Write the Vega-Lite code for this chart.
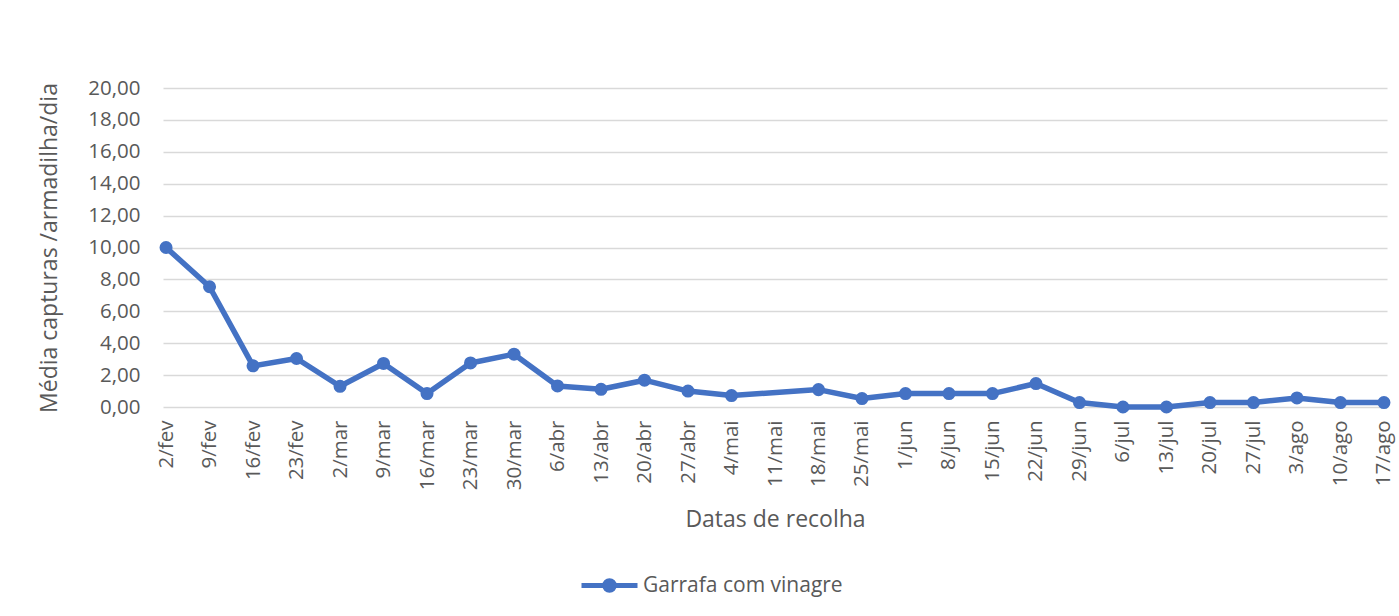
{
  "$schema": "https://vega.github.io/schema/vega-lite/v6.json",
  "width": 1224,
  "height": 319,
  "autosize": "none",
  "padding": {"left": 163, "top": 88, "right": 12, "bottom": 209},
  "background": "white",
  "config": {"font": "Open Sans", "view": {"stroke": null}},
  "data": {
    "values": [
      {"data": "2/fev", "media": 10.0, "serie": "Garrafa com vinagre"},
      {"data": "9/fev", "media": 7.54, "serie": "Garrafa com vinagre"},
      {"data": "16/fev", "media": 2.58, "serie": "Garrafa com vinagre"},
      {"data": "23/fev", "media": 3.04, "serie": "Garrafa com vinagre"},
      {"data": "2/mar", "media": 1.3, "serie": "Garrafa com vinagre"},
      {"data": "9/mar", "media": 2.73, "serie": "Garrafa com vinagre"},
      {"data": "16/mar", "media": 0.84, "serie": "Garrafa com vinagre"},
      {"data": "23/mar", "media": 2.76, "serie": "Garrafa com vinagre"},
      {"data": "30/mar", "media": 3.31, "serie": "Garrafa com vinagre"},
      {"data": "6/abr", "media": 1.32, "serie": "Garrafa com vinagre"},
      {"data": "13/abr", "media": 1.11, "serie": "Garrafa com vinagre"},
      {"data": "20/abr", "media": 1.68, "serie": "Garrafa com vinagre"},
      {"data": "27/abr", "media": 1.0, "serie": "Garrafa com vinagre"},
      {"data": "4/mai", "media": 0.72, "serie": "Garrafa com vinagre"},
      {"data": "18/mai", "media": 1.09, "serie": "Garrafa com vinagre"},
      {"data": "25/mai", "media": 0.53, "serie": "Garrafa com vinagre"},
      {"data": "1/jun", "media": 0.84, "serie": "Garrafa com vinagre"},
      {"data": "8/jun", "media": 0.84, "serie": "Garrafa com vinagre"},
      {"data": "15/jun", "media": 0.84, "serie": "Garrafa com vinagre"},
      {"data": "22/jun", "media": 1.47, "serie": "Garrafa com vinagre"},
      {"data": "29/jun", "media": 0.28, "serie": "Garrafa com vinagre"},
      {"data": "6/jul", "media": 0.0, "serie": "Garrafa com vinagre"},
      {"data": "13/jul", "media": 0.0, "serie": "Garrafa com vinagre"},
      {"data": "20/jul", "media": 0.28, "serie": "Garrafa com vinagre"},
      {"data": "27/jul", "media": 0.28, "serie": "Garrafa com vinagre"},
      {"data": "3/ago", "media": 0.57, "serie": "Garrafa com vinagre"},
      {"data": "10/ago", "media": 0.28, "serie": "Garrafa com vinagre"},
      {"data": "17/ago", "media": 0.28, "serie": "Garrafa com vinagre"}
    ]
  },
  "mark": {
    "type": "line",
    "strokeWidth": 5.5,
    "strokeCap": "round",
    "strokeJoin": "round",
    "point": {"filled": true, "size": 170}
  },
  "encoding": {
    "x": {
      "field": "data",
      "type": "ordinal",
      "scale": {
        "type": "point",
        "padding": 0.07,
        "domain": ["2/fev", "9/fev", "16/fev", "23/fev", "2/mar", "9/mar", "16/mar", "23/mar", "30/mar", "6/abr", "13/abr", "20/abr", "27/abr", "4/mai", "11/mai", "18/mai", "25/mai", "1/jun", "8/jun", "15/jun", "22/jun", "29/jun", "6/jul", "13/jul", "20/jul", "27/jul", "3/ago", "10/ago", "17/ago"]
      },
      "axis": {
        "title": "Datas de recolha",
        "labelAngle": -90,
        "labelAlign": "right",
        "labelBaseline": "middle",
        "labelPadding": 13,
        "labelFontSize": 20.5,
        "labelColor": "#595959",
        "titleFontSize": 23,
        "titleFontWeight": "normal",
        "titleColor": "#595959",
        "titlePadding": 19,
        "grid": false,
        "ticks": false,
        "domain": false
      }
    },
    "y": {
      "field": "media",
      "type": "quantitative",
      "scale": {"domain": [0, 20]},
      "axis": {
        "title": "Média capturas /armadilha/dia",
        "values": [0, 2, 4, 6, 8, 10, 12, 14, 16, 18, 20],
        "labelExpr": "replace(format(datum.value, '.2f'), '.', ',')",
        "labelFontSize": 20.5,
        "labelColor": "#595959",
        "labelPadding": 23,
        "titleFontSize": 23,
        "titleFontWeight": "normal",
        "titleColor": "#595959",
        "titlePadding": 26,
        "grid": true,
        "gridColor": "#D9D9D9",
        "gridWidth": 1.5,
        "ticks": false,
        "domain": false
      }
    },
    "color": {
      "field": "serie",
      "type": "nominal",
      "scale": {"range": ["#4472C4"]},
      "legend": {
        "title": null,
        "orient": "none",
        "legendX": 416,
        "legendY": 467,
        "padding": 0,
        "symbolType": "M-1,0L1,0M0.17,0A0.17,0.17,0,1,1,-0.17,0A0.17,0.17,0,1,1,0.17,0Z",
        "symbolSize": 3136,
        "symbolStrokeWidth": 5,
        "labelFontSize": 21,
        "labelLimit": 500,
        "labelColor": "#595959",
        "labelOffset": 3,
        "encoding": {
          "symbols": {
            "update": {
              "fill": {"value": "#4472C4"},
              "stroke": {"value": "#4472C4"},
              "strokeWidth": {"value": 5},
              "strokeCap": {"value": "round"},
              "opacity": {"value": 1}
            }
          }
        }
      }
    },
    "order": {"value": null}
  }
}
